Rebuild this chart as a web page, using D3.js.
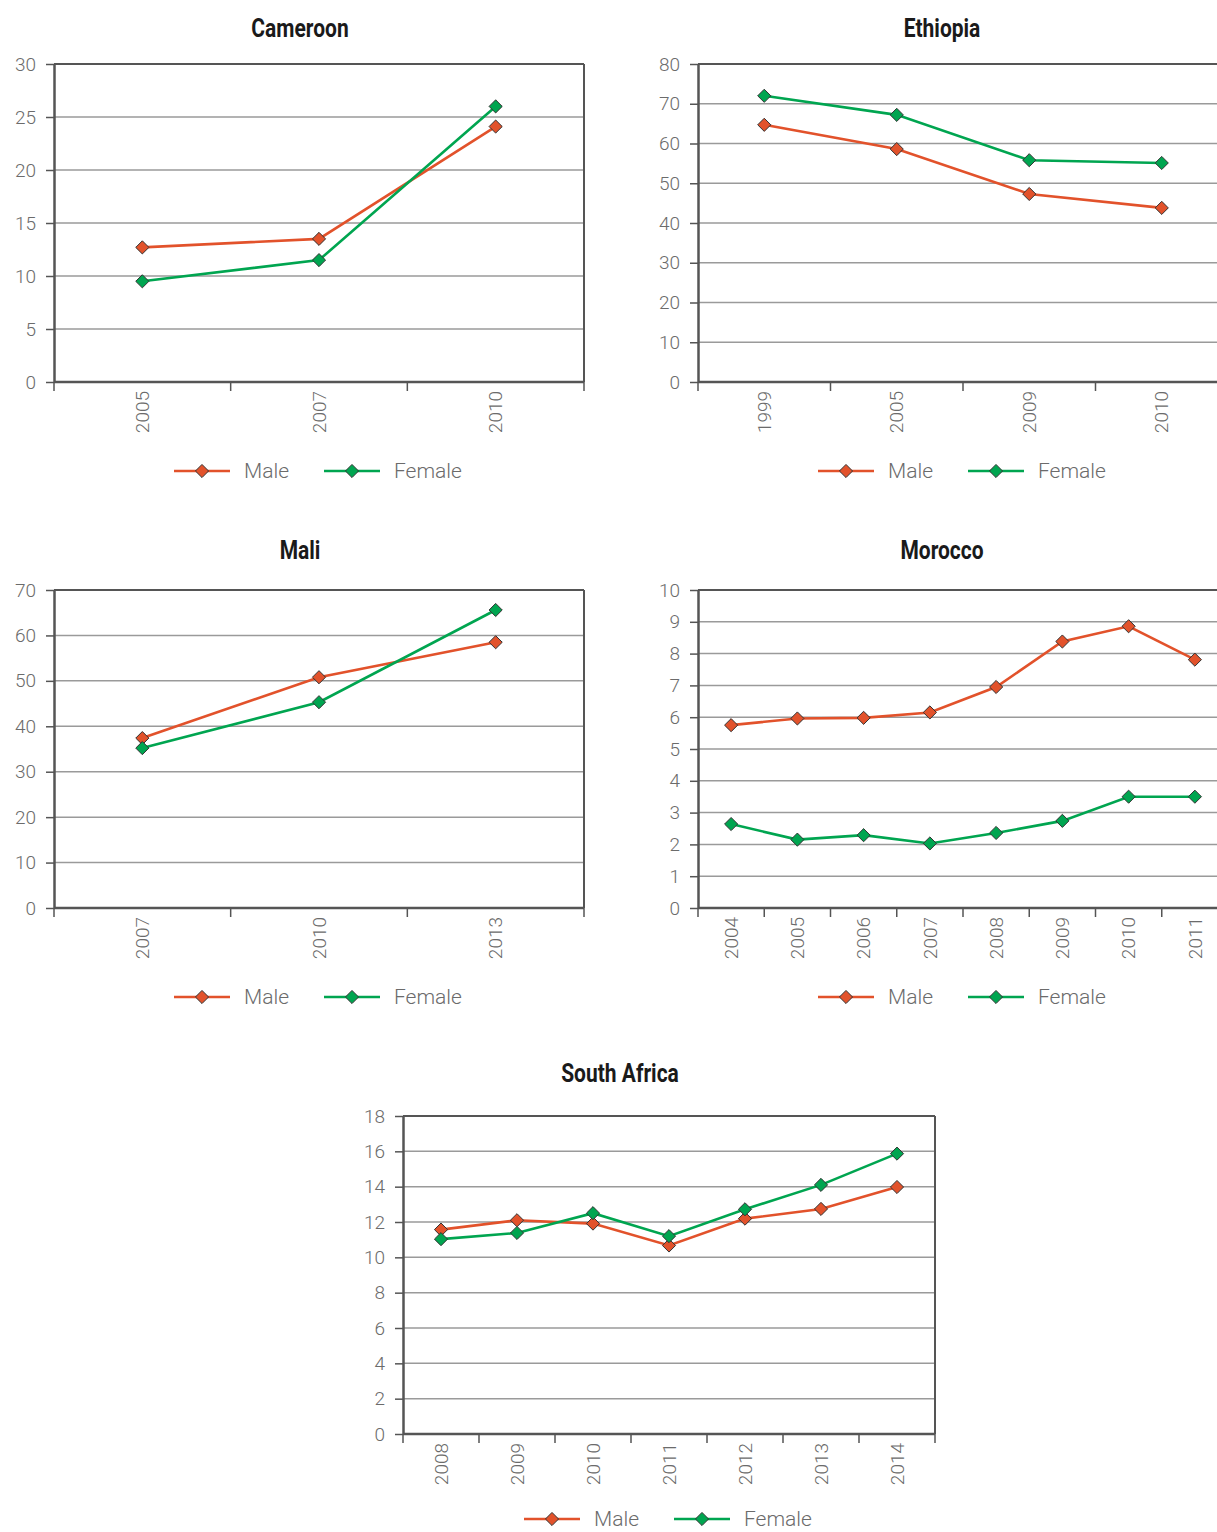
<!DOCTYPE html>
<html><head><meta charset="utf-8">
<script src="https://cdn.jsdelivr.net/npm/d3@7"></script>
<style>
body{margin:0;background:#fff;}
svg text{font-family:"Helvetica Neue",Roboto,"Liberation Sans",Arial,sans-serif;}
</style></head>
<body><svg id="c" width="1217" height="1532"></svg>
<script>
// ---- data ----
const cameroonYears = ["2005","2007","2010"];
const cameroonMale = [12.7, 13.5, 24.1];
const cameroonFemale = [9.5, 11.5, 26.0];
const cameroonTicks = [0,5,10,15,20,25,30];

const ethiopiaYears = ["1999","2005","2009","2010"];
const ethiopiaMale = [64.7, 58.6, 47.3, 43.8];
const ethiopiaFemale = [72.0, 67.2, 55.8, 55.1];
const ethiopiaTicks = [0,10,20,30,40,50,60,70,80];

const maliYears = ["2007","2010","2013"];
const maliMale = [37.4, 50.8, 58.5];
const maliFemale = [35.2, 45.3, 65.6];
const maliTicks = [0,10,20,30,40,50,60,70];

const moroccoYears = ["2004","2005","2006","2007","2008","2009","2010","2011"];
const moroccoMale = [5.75, 5.96, 5.98, 6.15, 6.95, 8.38, 8.86, 7.81];
const moroccoFemale = [2.64, 2.15, 2.29, 2.03, 2.36, 2.74, 3.50, 3.50];
const moroccoTicks = [0,1,2,3,4,5,6,7,8,9,10];

const saYears = ["2008","2009","2010","2011","2012","2013","2014"];
const saMale = [11.57, 12.1, 11.91, 10.67, 12.19, 12.74, 13.98];
const saFemale = [11.03, 11.38, 12.5, 11.2, 12.72, 14.1, 15.87];
const saTicks = [0,2,4,6,8,10,12,14,16,18];

const seriesNames = ["Male","Female"];
const seriesColors = ["#E2522B","#00A550"];

// ---- drawing ----
const svg = d3.select("#c");
const gridColor = "#9a9a9a", axisColor = "#555", textColor = "#6b6b6b";

function panel(o){
  const W = o.width || 530;
  const g = svg.append("g");
  const x = d3.scaleBand().domain(o.years).range([o.left, o.left+W]);
  const y = d3.scaleLinear().domain([0, d3.max(o.ticks)]).range([o.top+318, o.top]);
  // title
  g.append("text").attr("transform",`translate(${o.titleX},${o.titleY}) scale(0.84,1)`)
    .attr("text-anchor","middle").attr("font-size",25).attr("font-weight","bold")
    .style("font-family","Roboto,'Liberation Sans',sans-serif")
    .attr("fill","#1a1a1a").text(o.title);
  // gridlines
  g.append("g").selectAll("line").data(o.ticks.filter(t=>t>0 && t<d3.max(o.ticks))).join("line")
    .attr("x1", o.left).attr("x2", o.left+W)
    .attr("y1", d=>y(d)).attr("y2", d=>y(d))
    .attr("stroke", gridColor).attr("stroke-width",1.5);
  // border top & right
  g.append("line").attr("x1",o.left).attr("x2",o.left+W).attr("y1",y(d3.max(o.ticks))).attr("y2",y(d3.max(o.ticks)))
    .attr("stroke",axisColor).attr("stroke-width",2);
  g.append("line").attr("x1",o.left+W).attr("x2",o.left+W).attr("y1",o.top).attr("y2",o.top+318)
    .attr("stroke",axisColor).attr("stroke-width",2);
  // y axis
  const ya = g.append("g").attr("transform",`translate(${o.left},0)`)
    .call(d3.axisLeft(y).tickValues(o.ticks).tickSize(8).tickPadding(10).tickSizeOuter(0));
  ya.select(".domain").attr("stroke",axisColor).attr("stroke-width",2.5);
  ya.selectAll(".tick line").attr("stroke",axisColor).attr("stroke-width",1.5);
  ya.selectAll(".tick text").attr("fill",textColor).attr("font-size",19).attr("font-weight",300)
    .style("font-family","Roboto,'Liberation Sans',sans-serif");
  // x axis: ticks at band boundaries
  const bounds = o.years.map(d=>x(d)).concat([o.left+W]);
  const xa = g.append("g");
  xa.append("line").attr("x1",o.left).attr("x2",o.left+W).attr("y1",o.top+318).attr("y2",o.top+318)
    .attr("stroke",axisColor).attr("stroke-width",2.5);
  xa.selectAll("line.t").data(bounds).join("line").attr("class","t")
    .attr("x1",d=>d).attr("x2",d=>d).attr("y1",o.top+318).attr("y2",o.top+318+9)
    .attr("stroke",axisColor).attr("stroke-width",1.5);
  xa.selectAll("text").data(o.years).join("text")
    .attr("transform",d=>`translate(${x(d)+x.bandwidth()/2},${o.top+318+9}) rotate(-90)`)
    .attr("text-anchor","end").attr("dy","0.35em")
    .attr("fill",textColor).attr("font-size",19).attr("font-weight",300)
    .style("font-family","Roboto,'Liberation Sans',sans-serif")
    .text(d=>d);
  // series
  const sym = d3.symbol().type(d3.symbolDiamond2).size(110);
  [o.male,o.female].forEach((vals,i)=>{
    const pts = o.years.map((yr,j)=>[x(yr)+x.bandwidth()/2, y(vals[j])]);
    g.append("path").attr("d", d3.line()(pts)).attr("fill","none")
      .attr("stroke",seriesColors[i]).attr("stroke-width",2.6);
  });
  [o.male,o.female].forEach((vals,i)=>{
    const pts = o.years.map((yr,j)=>[x(yr)+x.bandwidth()/2, y(vals[j])]);
    g.append("g").selectAll("path").data(pts).join("path")
      .attr("transform",d=>`translate(${d[0]},${d[1]})`).attr("d",sym)
      .attr("fill",seriesColors[i]).attr("stroke","#333").attr("stroke-width",1);
  });
  // legend
  const ly = o.legendY, lx = o.left+o.legendOff;
  seriesNames.forEach((n,i)=>{
    const bx = lx + i*150;
    g.append("line").attr("x1",bx).attr("x2",bx+56).attr("y1",ly).attr("y2",ly)
      .attr("stroke",seriesColors[i]).attr("stroke-width",2.6);
    g.append("path").attr("transform",`translate(${bx+28},${ly})`).attr("d",sym)
      .attr("fill",seriesColors[i]).attr("stroke","#333").attr("stroke-width",1);
    g.append("text").attr("x",bx+70).attr("y",ly).attr("dy","0.35em")
      .attr("fill",textColor).attr("font-size",21).attr("font-weight",300)
      .style("font-family","Roboto,'Liberation Sans',sans-serif").text(n);
  });
}

panel({title:"Cameroon", titleX:300, titleY:37, left:54, top:64, years:cameroonYears, male:cameroonMale, female:cameroonFemale, ticks:cameroonTicks, legendY:471, legendOff:120});
panel({title:"Ethiopia", titleX:942, titleY:37, left:698, top:64, years:ethiopiaYears, male:ethiopiaMale, female:ethiopiaFemale, ticks:ethiopiaTicks, legendY:471, legendOff:120});
panel({title:"Mali", titleX:300, titleY:559, left:54, top:590, years:maliYears, male:maliMale, female:maliFemale, ticks:maliTicks, legendY:997, legendOff:120});
panel({title:"Morocco", titleX:942, titleY:559, left:698, top:590, years:moroccoYears, male:moroccoMale, female:moroccoFemale, ticks:moroccoTicks, legendY:997, legendOff:120});
panel({title:"South Africa", titleX:620, titleY:1082, left:403, width:532, top:1116, years:saYears, male:saMale, female:saFemale, ticks:saTicks, legendY:1519, legendOff:121});
</script></body></html>
